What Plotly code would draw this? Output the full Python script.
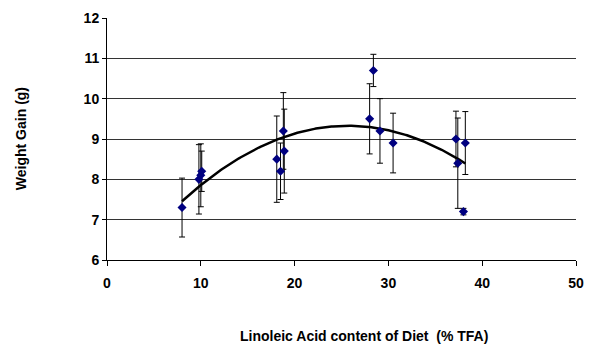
import numpy as np
import plotly.graph_objects as go

# Linoleic acid content of diet (% TFA) and weight gain (g) with SD
linoleic = [8.0, 9.8, 10.0, 10.1, 18.1, 18.5, 18.8, 18.9, 28.0, 28.4, 29.1, 30.5, 37.2, 37.4, 38.0, 38.2]
weight_gain = [7.3, 8.0, 8.1, 8.2, 8.5, 8.2, 9.2, 8.7, 9.5, 10.7, 9.2, 8.9, 9.0, 8.4, 7.2, 8.9]
weight_sd = [0.73, 0.86, 0.78, 0.5, 1.07, 0.7, 0.95, 1.04, 0.87, 0.4, 0.8, 0.74, 0.69, 1.12, 0.08, 0.78]

x_ticks = [0, 10, 20, 30, 40, 50]
y_ticks = [6, 7, 8, 9, 10, 11, 12]

# Second-order polynomial trend line through the data
coef = np.polyfit(linoleic, weight_gain, 2)
x_fit = np.linspace(min(linoleic), max(linoleic), 200)
y_fit = np.polyval(coef, x_fit)

font_family = "Liberation Sans, Arial, sans-serif"

fig = go.Figure()
fig.add_trace(go.Scatter(
    x=x_fit, y=y_fit, mode="lines",
    line=dict(color="black", width=2.5),
    hoverinfo="skip", showlegend=False,
))
fig.add_trace(go.Scatter(
    x=linoleic, y=weight_gain, mode="markers",
    marker=dict(symbol="diamond", size=7, color="#000080"),
    error_y=dict(type="data", array=weight_sd, visible=True,
                 color="black", thickness=1, width=3),
    showlegend=False,
))

fig.update_layout(
    width=594, height=349,
    margin=dict(l=107, r=10, t=18, b=89),
    paper_bgcolor="white", plot_bgcolor="white",
    font=dict(family=font_family, color="black"),
    xaxis=dict(
        range=[0, 50], tickvals=x_ticks,
        ticktext=[f"<b>{v}</b>" for v in x_ticks],
        ticks="outside", ticklen=5,
        tickcolor="black", showline=True, linecolor="black", linewidth=1,
        showgrid=False, zeroline=False, ticklabelstandoff=5,
        tickfont=dict(size=14, family=font_family, color="black"),
    ),
    yaxis=dict(
        range=[6, 12], tickvals=y_ticks,
        ticktext=[f"<b>{v}</b>" for v in y_ticks],
        ticks="outside", ticklen=4,
        tickcolor="black", showline=True, linecolor="black", linewidth=1,
        showgrid=True, gridcolor="#333333", gridwidth=1, zeroline=False,
        tickfont=dict(size=14, family=font_family, color="black"),
    ),
    annotations=[
        dict(text="<b>Weight Gain (g)</b>", xref="paper", yref="paper",
             x=-0.183, y=0.5, textangle=-90, showarrow=False,
             xanchor="center", yanchor="middle",
             font=dict(size=14, family=font_family, color="black")),
        dict(text="<b>Linoleic Acid content of Diet  (% TFA)</b>", xref="paper", yref="paper",
             x=0.548, y=-0.315, showarrow=False,
             xanchor="center", yanchor="middle",
             font=dict(size=14, family=font_family, color="black")),
    ],
)

fig.write_html("out.html")
